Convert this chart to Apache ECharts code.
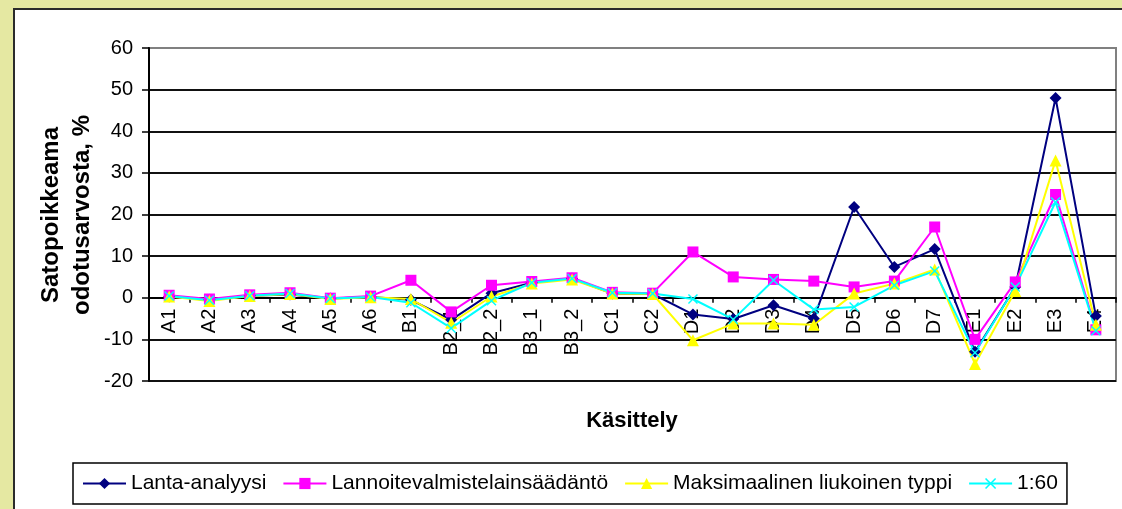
<!DOCTYPE html>
<html>
<head>
<meta charset="utf-8">
<title>Satopoikkeama</title>
<script src="https://cdn.jsdelivr.net/npm/echarts@6/dist/echarts.min.js"></script>
<style>
    html, body { margin: 0; padding: 0; }
    body { width: 1122px; height: 509px; background: #e5e8a2; position: relative; overflow: hidden; }
    #frame { position: absolute; left: 13px; top: 8px; width: 1130px; height: 520px; background: #fff; border: 2px solid #2b2b2b; }
    #chart { position: absolute; left: 0; top: 0; width: 1122px; height: 509px; }
</style>
</head>
<body>
<div id="frame"></div>
<div id="chart"></div>
<script>
const categories = ['A1', 'A2', 'A3', 'A4', 'A5', 'A6', 'B1', 'B2_1', 'B2_2', 'B3_1', 'B3_2', 'C1', 'C2',
    'D1', 'D2', 'D3', 'D4', 'D5', 'D6', 'D7', 'E1', 'E2', 'E3', 'E4'];

const lantaAnalyysi = [0.3, -0.5, 0.5, 0.8, -0.2, 0.2, -0.5, -5.3, 1.1, 3.6, 4.6, 1.0, 0.9,
    -4.0, -5.1, -1.8, -5.0, 21.8, 7.4, 11.7, -13.0, 2.6, 48.0, -4.4];
const lannoitevalmiste = [0.6, -0.3, 0.7, 1.2, -0.1, 0.4, 4.2, -3.4, 3.0, 3.9, 4.8, 1.3, 1.1,
    11.0, 5.0, 4.4, 4.0, 2.6, 4.0, 17.0, -10.0, 3.8, 24.8, -7.7];
const maksLiukoinen = [0.3, -0.8, 0.4, 0.9, -0.3, 0.1, -0.3, -6.0, 0.3, 3.4, 4.4, 1.0, 0.9,
    -10.2, -6.2, -6.2, -6.5, 1.0, 3.4, 6.8, -15.9, 1.6, 33.0, -6.5];
const suhde160 = [0.4, -0.6, 0.5, 1.0, -0.2, 0.2, -1.2, -7.3, -0.7, 3.6, 4.6, 1.2, 1.0,
    -0.3, -5.2, 4.2, -2.8, -2.2, 3.0, 6.4, -13.2, 2.6, 23.0, -7.9];

const yTicks = [-20, -10, 0, 10, 20, 30, 40, 50, 60];

const FONT = "'Liberation Sans', Arial, sans-serif";
// x-shaped marker as a filled outline
const crossSymbol = 'path://M0,1 L1,0 L5,4 L9,0 L10,1 L6,5 L10,9 L9,10 L5,6 L1,10 L0,9 L4,5 Z';

const GRID_TOP = 48;
const GRID_HEIGHT = 333;
// category axis sits on the zero line: move it up from the grid bottom
const zeroOffset = -GRID_HEIGHT * (0 - yTicks[0]) / (yTicks[yTicks.length - 1] - yTicks[0]);

function lineSeries(name, data, color, symbol, size) {
    return {
        name: name,
        type: 'line',
        data: data,
        symbol: symbol,
        symbolSize: size,
        showAllSymbol: true,
        lineStyle: { color: color, width: 2 },
        itemStyle: { color: color, borderWidth: 0 },
        emphasis: { disabled: true },
        animation: false
    };
}

const chart = echarts.init(document.getElementById('chart'), null, { renderer: 'canvas' });

// split lines are black except the top one, which is the grey plot border
const splitColors = yTicks.map((v, i) => i === yTicks.length - 1 ? '#808080' : '#111');

chart.setOption({
    animation: false,
    backgroundColor: 'transparent',
    textStyle: { fontFamily: FONT, color: '#000' },
    grid: {
        left: 149, right: 6, top: GRID_TOP, height: GRID_HEIGHT,
        show: true, borderColor: '#808080', borderWidth: 2, backgroundColor: 'transparent'
    },
    legend: {
        left: 73, top: 463,
        padding: [10, 9],
        itemGap: 16,
        itemWidth: 43,
        itemHeight: 14,
        borderColor: '#000',
        borderWidth: 1.5,
        backgroundColor: '#fff',
        textStyle: { fontSize: 21, color: '#000', fontFamily: FONT },
        data: ['Lanta-analyysi', 'Lannoitevalmistelainsäädäntö', 'Maksimaalinen liukoinen typpi', '1:60']
    },
    xAxis: {
        type: 'category',
        data: categories,
        boundaryGap: true,
        position: 'bottom',
        offset: zeroOffset,
        axisLine: { onZero: false, lineStyle: { color: '#000', width: 2 } },
        axisTick: { show: true, length: 5, lineStyle: { color: '#000', width: 1.5 } },
        axisLabel: { rotate: 90, fontSize: 20, margin: 11, color: '#000', fontFamily: FONT, interval: 0 },
        splitLine: { show: false }
    },
    yAxis: {
        type: 'value',
        min: yTicks[0], max: yTicks[yTicks.length - 1], interval: 10,
        axisLine: { show: true, lineStyle: { color: '#000', width: 2 } },
        axisTick: { show: true, length: 7, lineStyle: { color: '#000', width: 1.5 } },
        axisLabel: { fontSize: 20, margin: 16, color: '#000', fontFamily: FONT },
        splitLine: { show: true, lineStyle: { color: splitColors, width: 2 } }
    },
    graphic: [
        {
            type: 'text',
            x: 67, y: 215,
            rotation: Math.PI / 2,
            style: {
                text: 'Satopoikkeama\nodotusarvosta, %',
                font: 'bold 24px ' + FONT,
                lineHeight: 31,
                align: 'center',
                verticalAlign: 'middle',
                fill: '#000'
            }
        },
        {
            type: 'text',
            x: 632, y: 421,
            style: {
                text: 'Käsittely',
                font: 'bold 22px ' + FONT,
                align: 'center',
                verticalAlign: 'middle',
                fill: '#000'
            }
        }
    ],
    series: [
        lineSeries('Lanta-analyysi', lantaAnalyysi, '#000080', 'diamond', 12),
        lineSeries('Lannoitevalmistelainsäädäntö', lannoitevalmiste, '#ff00ff', 'rect', 11),
        lineSeries('Maksimaalinen liukoinen typpi', maksLiukoinen, '#ffff00', 'triangle', 12),
        lineSeries('1:60', suhde160, '#00ffff', crossSymbol, 10)
    ]
});
</script>
</body>
</html>
